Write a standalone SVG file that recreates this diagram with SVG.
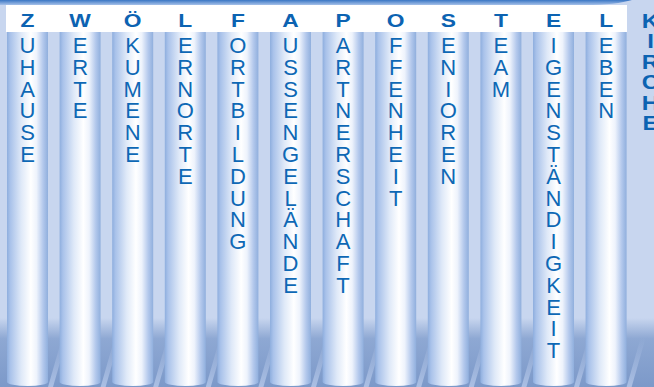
<svg xmlns="http://www.w3.org/2000/svg" width="654" height="387" viewBox="0 0 654 387">
<defs>
<linearGradient id="pil" x1="0" y1="0" x2="1" y2="0">
<stop offset="0" stop-color="#8eaede"/>
<stop offset="0.08" stop-color="#a9c2ea"/>
<stop offset="0.35" stop-color="#dfe9f8"/>
<stop offset="0.58" stop-color="#ffffff"/>
<stop offset="0.72" stop-color="#eef3fc"/>
<stop offset="0.88" stop-color="#b3c8ec"/>
<stop offset="1" stop-color="#90afdd"/>
</linearGradient>
<linearGradient id="floor" x1="0" y1="318" x2="0" y2="387" gradientUnits="userSpaceOnUse">
<stop offset="0" stop-color="#c8d6ef"/>
<stop offset="0.3" stop-color="#8ea8d3"/>
<stop offset="1" stop-color="#7c99c9"/>
</linearGradient>
<linearGradient id="strip" x1="0" y1="0" x2="0" y2="1">
<stop offset="0" stop-color="#3a76c4"/>
<stop offset="1" stop-color="#a6c1e9"/>
</linearGradient>
<linearGradient id="ray" x1="0" y1="1" x2="0" y2="0">
<stop offset="0" stop-color="#b3c6e8" stop-opacity="0.85"/>
<stop offset="1" stop-color="#b3c6e8" stop-opacity="0"/>
</linearGradient>
<path id="col" d="M0,32 H41 V382 A20.5,4 0 0 1 0,382 Z" fill="url(#pil)"/>
<polygon id="rf" points="41,387 46,387 60,338 55,338" fill="url(#ray)"/>
</defs>
<style>
.hd{font-family:"Liberation Sans",Arial,sans-serif;font-weight:bold;font-size:19px;fill:#0c63b2;text-anchor:middle}
.tx{font-family:"Liberation Sans",Arial,sans-serif;font-size:22px;fill:#0e68b5;text-anchor:middle}
</style>
<rect width="654" height="387" fill="#c8d6ef"/>
<rect x="0" y="318" width="654" height="69" fill="url(#floor)"/>
<g id="rays">
<use href="#rf" x="7"/><use href="#rf" x="59.6"/><use href="#rf" x="112.2"/><use href="#rf" x="164.8"/><use href="#rf" x="217.4"/><use href="#rf" x="270"/><use href="#rf" x="322.6"/><use href="#rf" x="375.2"/><use href="#rf" x="427.8"/><use href="#rf" x="480.4"/><use href="#rf" x="533"/><use href="#rf" x="585.6"/>
</g>
<path d="M0,0 H632 C622,3 606,5 585,5 H0 Z" fill="url(#strip)"/>
<rect x="6" y="5" width="621" height="27" fill="#ffffff"/>
<g id="c1"><use href="#col" x="7"/><text class="hd" transform="translate(27.5,27) scale(1.2,1)">Z</text>
<text class="tx" y="53"><tspan x="27.5">U</tspan><tspan x="27.5" dy="21.8">H</tspan><tspan x="27.5" dy="21.8">A</tspan><tspan x="27.5" dy="21.8">U</tspan><tspan x="27.5" dy="21.8">S</tspan><tspan x="27.5" dy="21.8">E</tspan></text></g>
<g id="c2"><use href="#col" x="59.6"/><text class="hd" transform="translate(80.1,27) scale(1.2,1)">W</text>
<text class="tx" y="53"><tspan x="80.1">E</tspan><tspan x="80.1" dy="21.8">R</tspan><tspan x="80.1" dy="21.8">T</tspan><tspan x="80.1" dy="21.8">E</tspan></text></g>
<g id="c3"><use href="#col" x="112.2"/><text class="hd" transform="translate(132.7,27) scale(1.2,1)">Ö</text>
<text class="tx" y="53"><tspan x="132.7">K</tspan><tspan x="132.7" dy="21.8">U</tspan><tspan x="132.7" dy="21.8">M</tspan><tspan x="132.7" dy="21.8">E</tspan><tspan x="132.7" dy="21.8">N</tspan><tspan x="132.7" dy="21.8">E</tspan></text></g>
<g id="c4"><use href="#col" x="164.8"/><text class="hd" transform="translate(185.3,27) scale(1.2,1)">L</text>
<text class="tx" y="53"><tspan x="185.3">E</tspan><tspan x="185.3" dy="21.8">R</tspan><tspan x="185.3" dy="21.8">N</tspan><tspan x="185.3" dy="21.8">O</tspan><tspan x="185.3" dy="21.8">R</tspan><tspan x="185.3" dy="21.8">T</tspan><tspan x="185.3" dy="21.8">E</tspan></text></g>
<g id="c5"><use href="#col" x="217.4"/><text class="hd" transform="translate(237.9,27) scale(1.2,1)">F</text>
<text class="tx" y="53"><tspan x="237.9">O</tspan><tspan x="237.9" dy="21.8">R</tspan><tspan x="237.9" dy="21.8">T</tspan><tspan x="237.9" dy="21.8">B</tspan><tspan x="237.9" dy="21.8">I</tspan><tspan x="237.9" dy="21.8">L</tspan><tspan x="237.9" dy="21.8">D</tspan><tspan x="237.9" dy="21.8">U</tspan><tspan x="237.9" dy="21.8">N</tspan><tspan x="237.9" dy="21.8">G</tspan></text></g>
<g id="c6"><use href="#col" x="270"/><text class="hd" transform="translate(290.5,27) scale(1.2,1)">A</text>
<text class="tx" y="53"><tspan x="290.5">U</tspan><tspan x="290.5" dy="21.8">S</tspan><tspan x="290.5" dy="21.8">S</tspan><tspan x="290.5" dy="21.8">E</tspan><tspan x="290.5" dy="21.8">N</tspan><tspan x="290.5" dy="21.8">G</tspan><tspan x="290.5" dy="21.8">E</tspan><tspan x="290.5" dy="21.8">L</tspan><tspan x="290.5" dy="21.8">Ä</tspan><tspan x="290.5" dy="21.8">N</tspan><tspan x="290.5" dy="21.8">D</tspan><tspan x="290.5" dy="21.8">E</tspan></text></g>
<g id="c7"><use href="#col" x="322.6"/><text class="hd" transform="translate(343.1,27) scale(1.2,1)">P</text>
<text class="tx" y="53"><tspan x="343.1">A</tspan><tspan x="343.1" dy="21.8">R</tspan><tspan x="343.1" dy="21.8">T</tspan><tspan x="343.1" dy="21.8">N</tspan><tspan x="343.1" dy="21.8">E</tspan><tspan x="343.1" dy="21.8">R</tspan><tspan x="343.1" dy="21.8">S</tspan><tspan x="343.1" dy="21.8">C</tspan><tspan x="343.1" dy="21.8">H</tspan><tspan x="343.1" dy="21.8">A</tspan><tspan x="343.1" dy="21.8">F</tspan><tspan x="343.1" dy="21.8">T</tspan></text></g>
<g id="c8"><use href="#col" x="375.2"/><text class="hd" transform="translate(395.7,27) scale(1.2,1)">O</text>
<text class="tx" y="53"><tspan x="395.7">F</tspan><tspan x="395.7" dy="21.8">F</tspan><tspan x="395.7" dy="21.8">E</tspan><tspan x="395.7" dy="21.8">N</tspan><tspan x="395.7" dy="21.8">H</tspan><tspan x="395.7" dy="21.8">E</tspan><tspan x="395.7" dy="21.8">I</tspan><tspan x="395.7" dy="21.8">T</tspan></text></g>
<g id="c9"><use href="#col" x="427.8"/><text class="hd" transform="translate(448.3,27) scale(1.2,1)">S</text>
<text class="tx" y="53"><tspan x="448.3">E</tspan><tspan x="448.3" dy="21.8">N</tspan><tspan x="448.3" dy="21.8">I</tspan><tspan x="448.3" dy="21.8">O</tspan><tspan x="448.3" dy="21.8">R</tspan><tspan x="448.3" dy="21.8">E</tspan><tspan x="448.3" dy="21.8">N</tspan></text></g>
<g id="c10"><use href="#col" x="480.4"/><text class="hd" transform="translate(500.9,27) scale(1.2,1)">T</text>
<text class="tx" y="53"><tspan x="500.9">E</tspan><tspan x="500.9" dy="21.8">A</tspan><tspan x="500.9" dy="21.8">M</tspan></text></g>
<g id="c11"><use href="#col" x="533"/><text class="hd" transform="translate(553.5,27) scale(1.2,1)">E</text>
<text class="tx" y="53"><tspan x="553.5">I</tspan><tspan x="553.5" dy="21.8">G</tspan><tspan x="553.5" dy="21.8">E</tspan><tspan x="553.5" dy="21.8">N</tspan><tspan x="553.5" dy="21.8">S</tspan><tspan x="553.5" dy="21.8">T</tspan><tspan x="553.5" dy="21.8">Ä</tspan><tspan x="553.5" dy="21.8">N</tspan><tspan x="553.5" dy="21.8">D</tspan><tspan x="553.5" dy="21.8">I</tspan><tspan x="553.5" dy="21.8">G</tspan><tspan x="553.5" dy="21.8">K</tspan><tspan x="553.5" dy="21.8">E</tspan><tspan x="553.5" dy="21.8">I</tspan><tspan x="553.5" dy="21.8">T</tspan></text></g>
<g id="c12"><use href="#col" x="585.6"/><text class="hd" transform="translate(606.1,27) scale(1.2,1)">L</text>
<text class="tx" y="53"><tspan x="606.1">E</tspan><tspan x="606.1" dy="21.8">B</tspan><tspan x="606.1" dy="21.8">E</tspan><tspan x="606.1" dy="21.8">N</tspan></text></g>
<g id="kirche"><text class="hd" transform="translate(650.5,28) scale(1.2,1)" style="font-size:20px"><tspan x="0">K</tspan><tspan x="0" dy="20.4">I</tspan><tspan x="0" dy="20.4">R</tspan><tspan x="0" dy="20.4">C</tspan><tspan x="0" dy="20.4">H</tspan><tspan x="0" dy="20.4">E</tspan></text></g>
</svg>
